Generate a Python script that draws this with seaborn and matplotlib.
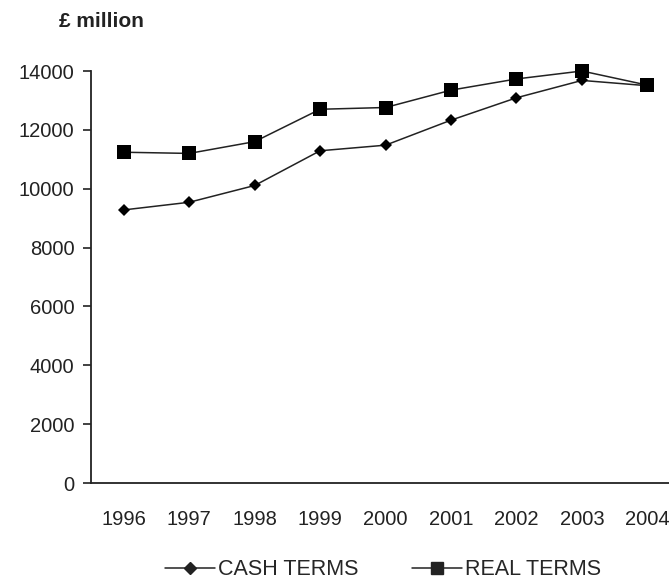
import pandas as pd
import numpy as np
import matplotlib
matplotlib.use("Agg")
import matplotlib.pyplot as plt
import seaborn as sns
from matplotlib.lines import Line2D

years = ["1996", "1997", "1998", "1999", "2000", "2001", "2002", "2003", "2004"]
cash_terms = [9280, 9540, 10110, 11290, 11480, 12330, 13090, 13680, 13500]
real_terms = [11240, 11200, 11600, 12700, 12760, 13350, 13730, 14000, 13520]
series_names = ["CASH TERMS", "REAL TERMS"]

data = pd.DataFrame({
    "year": years * 2,
    "value": cash_terms + real_terms,
    "series": [series_names[0]] * len(years) + [series_names[1]] * len(years),
})

sns.set_style("white")
plt.rcParams["font.family"] = ["Liberation Sans", "DejaVu Sans"]

fig = plt.figure(figsize=(6.69, 5.82), dpi=100)
ax = fig.add_axes([0.136, 0.170, 0.864, 0.708])

sns.lineplot(data=data, x="year", y="value", hue="series", style="series",
             palette=["#222222", "#222222"], markers={"CASH TERMS": "D", "REAL TERMS": "s"},
             dashes=False, markersize=7, linewidth=1.1, markeredgewidth=0,
             ax=ax, legend=False, clip_on=False)
# squares are bigger than the diamonds
for line, ms in zip(ax.lines, [6, 10]):
    line.set_markersize(ms)
    line.set_markerfacecolor("black")

ax.set_xlim(-0.5, 8.33)
ax.set_ylim(0, 14000)
ax.set_yticks(np.arange(0, 14001, 2000))
ax.set_xlabel("")
ax.set_ylabel("")
sns.despine(ax=ax)
for side in ["left", "bottom"]:
    ax.spines[side].set_linewidth(1.3)
    ax.spines[side].set_color("#222222")
ax.tick_params(axis="y", left=True, length=6, width=1.2, color="#222222",
               labelsize=14.5, labelcolor="#222222", pad=6)
ax.tick_params(axis="x", bottom=False, labelsize=14.5, labelcolor="#222222", pad=16)

fig.text(0.151, 0.963, "£ million", fontsize=15, fontweight="bold", ha="center", va="center",
         color="#222222")

handles = [Line2D([], [], color="#222222", marker="D", markersize=6, lw=1.1),
           Line2D([], [], color="#222222", marker="s", markersize=9, lw=1.1)]
fig.legend(handles, series_names, loc="center", bbox_to_anchor=(0.573, 0.021), ncol=2,
           frameon=False, handlelength=2.3, handletextpad=0.15,
           columnspacing=2.5, prop={"size": 15.5})

fig.savefig("out.png", dpi=100)
